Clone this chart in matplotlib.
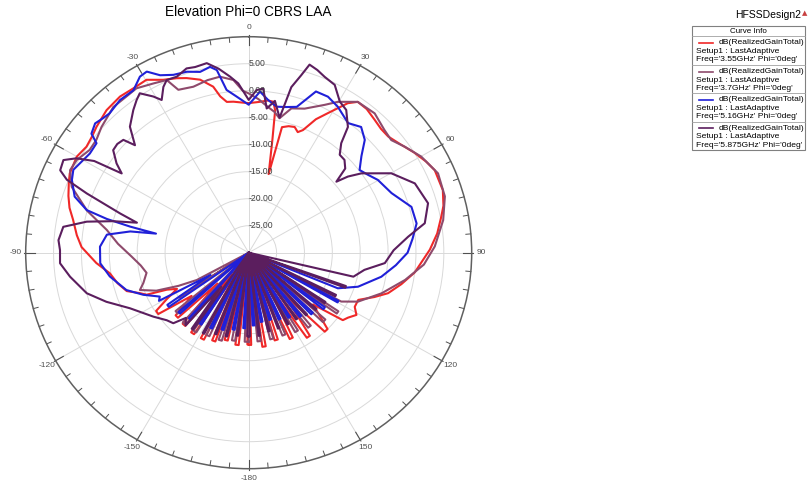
# HFSS style elevation pattern, 4 frequencies

import numpy as np
import matplotlib.pyplot as plt
from matplotlib.patches import Rectangle
from matplotlib.lines import Line2D

plt.rcParams['font.family'] = ['Liberation Sans', 'DejaVu Sans']

# realized gain (dB) vs theta (deg); -30 = at/below floor
th_355 = [-180, -179.2, -176.5, -174, -172, -169.5, -167, -165, -162, -160, -158, -155.5,
          -153.5, -151.5, -149, -147, -145, -142.5, -140, -138, -135.5, -133.5, -131.5, -128,
          -125, -123, -120.3, -117.5, -115, -113, -111, -108, -103.5, -98.7, -94, -88, -84,
          -79, -75.5, -72, -68, -65.4, -60, -56, -52.5, -49.5, -44, -38.6, -34.2, -29.8, -25.6,
          -21.8, -19, -15.2, -11.7, -10, -8, -5.6, -2, 0, 4, 7, 9, 10.2, 11.5, 13.8, 14.4, 17,
          19.5, 21.5, 23.2, 26, 28.8, 32.7, 35, 38.5, 42.6, 46, 49.3, 53.5, 58, 62, 65.4, 71.6,
          76, 79, 84, 89, 97, 102, 106.7, 110, 114, 117.8, 120.8, 124, 126.5, 129.7, 135, 137,
          140.5, 144.5, 146.5, 150, 153.3, 155.3, 158.5, 162, 164, 167, 170, 172, 175.5, 178.5, 180]
db_355 = [-13.0, -13.0, -30, -12.8, -12.8, -30, -13.3, -13.3, -30, -12.5, -12.5, -29,
          -12.0, -12.0, -27, -12.0, -12.0, -25, -12.3, -12.3, -22, -12.5, -12.5, -17,
          -10.2, -10.2, -13, -15.5, -13.8, -10.1, -9.1, -7.0, -5.8, -4.8, -2.6, 0.0, 1.0,
          2.1, 3.2, 4.0, 4.8, 5.3, 5.6, 5.1, 5.4, 5.9, 6.7, 7.0, 6.8, 6.9, 5.5,
          4.8, 4.2, 3.2, 1.4, -0.6, -1.8, -1.9, -2.2, -2.3, -2.0, -1.6, -1.7, -3.2, -8.7, -15.0, -6.0, -5.5,
          -5.3, -6.0, -5.3, -2.5, -0.5, 2.9, 4.1, 4.0, 3.4, 3.0, 3.0, 3.8, 5.0, 6.0, 6.7, 6.7,
          6.0, 5.2, 4.0, 2.5, 0.0, -2.0, -3.9, -6.0, -8.5, -8.5, -7.5, -8.5, -9.0, -15.0, -10.0, -10.0,
          -20, -11.1, -11.1, -24, -12.4, -12.4, -28, -13.1, -13.1, -30, -12.4, -12.4, -30, -12.9, -13.0]

th_37 = [-180, -177.5, -174.5, -171.5, -169.5, -166.5, -163.5, -161.5, -158.5, -155.5, -153.5,
         -150.5, -147.5, -145.5, -142.5, -139.5, -137.5, -134.5, -131.5, -129.5, -126.5, -123.5,
         -121, -118.5, -116, -113, -109.5, -106.5, -101.5, -97, -92, -86, -80.6, -75, -69, -64.5,
         -60.9, -56.3, -52.6, -48.6, -42, -37.2, -33.5, -28.6, -24.7, -22.7, -17.9, -13, -9, -4.9,
         -2, 0, 3.5, 7.3, 10, 12.5, 16, 20.6, 26.5, 29.8, 35, 41.2, 47, 50.8, 55, 60.1, 66.6,
         73.5, 80.2, 88, 94, 100.2, 107.5, 114.8, 118.6, 121.5, 124, 125.5, 128.5, 132, 134, 137,
         140.5, 142.5, 145.5, 148.5, 150.5, 153.5, 156.5, 158.5, 161.5, 164.5, 166.5, 169.5,
         172.5, 174.5, 177.5, 180]
db_37 = [-13.5, -13.5, -30, -13.5, -13.5, -30, -13.0, -13.0, -30, -13.0, -13.0,
         -30, -12.5, -12.5, -30, -12.5, -12.5, -30, -13.0, -13.0, -30, -15.0,
         -30, -19.4, -16.0, -12.0, -9.3, -10.3, -11.3, -10.5, -9.0, -6.5, -4.2, 0.0, 4.0, 5.5,
         5.3, 4.3, 4.4, 5.2, 6.3, 6.3, 6.5, 5.7, 5.2, 2.7, 2.3, 2.8, 3.0, 2.1,
         0.0, -0.5, -1.5, -2.8, -3.5, -4.5, -2.2, -1.5, 0.6, 2.2, 4.1, 4.3, 3.3, 3.0, 4.2, 5.7, 7.0,
         6.7, 5.4, 3.4, 1.5, -1.5, -5.0, -8.4, -11.1, -30, -10.6, -10.6, -30, -11.5, -11.5, -30,
         -12.5, -12.5, -30, -13.1, -13.1, -30, -13.5, -13.5, -30, -13.5, -13.5, -30,
         -13.5, -13.5, -30, -13.5]

th_516 = [-180, -177.5, -176, -173, -170, -168.5, -165.5, -162.5, -161, -158, -155, -153.5,
          -150.5, -147.5, -146, -143, -140, -138.5, -135.5, -132.5, -131, -128, -125, -123.5,
          -121, -119, -117, -112.4, -107.5, -100, -94.2, -87.6, -82.5, -79.5, -78, -77.2, -76.2,
          -74.8, -71.6, -67, -64, -61.3, -57.2, -53.4, -52, -49, -46.4, -44, -39.2, -34.5, -30.9,
          -28.6, -25.8, -22.3, -18.3, -14.6, -11.4, -9.6, -7.5, -4.3, 0, 3.9, 7, 10.5, 14, 17.7,
          22, 26.2, 30.6, 36.6, 40.9, 44.9, 48.5, 52.4, 56, 59.8, 66.7, 73.8, 79.8, 85, 90, 95,
          100.6, 107.8, 112.4, 115.5, 119, 120, 123, 126.5, 128, 131, 134, 135.5, 138.5, 141,
          142.5, 145.5, 148, 149.5, 152.5, 155, 156.5, 159.5, 162, 163.5, 166.5, 169, 170.5, 173,
          175.5, 177, 180]
db_516 = [-30, -16.0, -16.0, -30, -15.5, -15.5, -30, -15.0, -15.0, -30, -14.5, -14.5,
          -30, -14.2, -14.2, -30, -13.8, -13.8, -30, -13.3, -13.3, -30, -12.5, -12.5,
          -22, -11.6, -12.1, -9.55, -7.0, -4.7, -3.3, -3.3, -4.35, -8.4, -13.0, -8.2, -3.8,
          0.1, 2.9, 4.45, 5.0, 4.5, 3.9, 4.0, 5.8, 6.5, 6.1, 5.9, 6.5, 6.5, 8.0,
          8.2, 6.5, 5.6, 5.3, 4.6, 5.1, 4.3, 0.4, -1.0, -2.6, -0.1, -1.5, -2.5, -2.2, -1.65,
          2.2, 2.2, 1.4, -0.1, 0.8, -0.5, -3.0, -4.9, -4.2, -3.2, -2.1, 0.4, 0.6, -0.5, -1.5, -3.5,
          -5.8, -9.4, -12.7, -30, -11.6, -11.6, -30, -13.0, -13.0, -30, -14.0, -14.0, -30, -15.0,
          -15.0, -30, -16.0, -16.0, -30, -16.5, -16.5, -30, -17.0, -17.0, -30, -17.0, -17.0, -30,
          -16.5, -16.5, -30]

th_5875 = [-180, -179, -176, -173, -172, -169, -166, -165, -162, -159, -158, -155, -152, -151,
           -148, -145, -144, -142, -140, -137, -134, -130.4, -124.7, -115.8, -109.6, -104.5,
           -97.9, -93.3, -89.2, -86.1, -81.8, -78.8, -76.5, -74.5, -72.5, -69.3, -67.5, -65.7,
           -62.7, -60.5, -58.5, -57.2, -55.1, -52, -49.5, -47.1, -45.7, -42.4, -38.1, -35.4,
           -33.5, -30.6, -28.9, -26.5, -24.7, -21.6, -18.1, -15.6, -12.1, -9, -5.9, -3.4, 0,
           2.7, 4.9, 6.9, 9.5, 12.5, 14, 16, 17.4, 20, 22.7, 26.4, 30.3, 33.5, 37.4, 39.3, 42,
           45, 48, 50.1, 51.6, 54, 60.1, 66.7, 74.1, 80.2, 84.1, 89, 94.5, 98.7, 103.3, 106,
           109.5, 110.5, 113.5, 116.5, 117.5, 120.5, 123.5, 124.5, 127.5, 130.5, 131.5, 134.5,
           137.5, 138.5, 141.5, 144.5, 145.5, 148.5, 151.5, 152.5, 155.5, 158.5, 159.5, 162.5,
           165.5, 166.5, 169.5, 172.5, 173.5, 176.5, 179.2, 180]
db_5875 = [-14.5, -14.5, -30, -14.5, -14.5, -30, -14.0, -14.0, -30, -13.8, -13.8, -30, -13.0, -13.0,
           -30, -12.6, -12.6, -22, -12.4, -13.5, -11.2, -10.7, -9.2, -6.35, -2.9, 0.0,
           2.35, 3.9, 3.85, 4.2, 3.6, -0.4, -5.0, -9.2, -5.8, 1.05, 5.3, 7.1,
           7.4, 5.5, 2.5, -2.9, -1.1, 0.85, 1.0, 0.7, -1.5, 1.6, 3.55, 4.7,
           5.4, 3.6, 2.3, 4.3, 5.2, 5.05, 5.9, 5.7, 5.9, 4.5, 2.8, 1.4, -1.7,
           0.15, 0.5, -3.1, -1.5, -4.4, 1.6, 4.2, 6.5, 6.0, 5.3, 4.7, 2.4, 1.7, -0.7, -3.8, -5.6,
           -5.7, -6.7, -9.5, -7.3, -5.0, -0.5, 2.45, 3.45, 2.05, -1.25, -4.0, -5.5, -9.0, -10.7, -30,
           -11.5, -11.5, -30, -12.5, -12.5, -30, -13.5, -13.5, -30, -14.0, -14.0, -30,
           -14.5, -14.5, -30, -15.0, -15.0, -30, -15.0, -15.0, -30, -15.0, -15.0, -30,
           -15.0, -15.0, -30, -14.5, -14.5, -30, -14.5, -14.5]

freqs = ["3.55GHz", "3.7GHz", "5.16GHz", "5.875GHz"]
colors = ["#f02828", "#8e4a6c", "#2020d8", "#5b1e5e"]
ring_vals = [5, 0, -5, -10, -15, -20, -25]
theta_ticks = [0, 30, 60, 90, 120, 150, 180, 210, 240, 270, 300, 330]
theta_labels = ["0", "30", "60", "90", "120", "150", "-180", "-150", "-120", "-90", "-60", "-30"]

W, H = 812, 482
fig = plt.figure(figsize=(W / 100, H / 100), dpi=100)

# polar area, slightly wider than tall like the original
cx, cy, rx, ry = 248.7, 252.7, 223, 216
ax = fig.add_axes([(cx - rx) / W, (H - cy - ry) / H, 2 * rx / W, 2 * ry / H], projection='polar')
ax.set_aspect('auto')
ax.set_theta_zero_location('N')
ax.set_theta_direction(-1)
ax.set_ylim(-30, 10)

ax.set_xticks(np.deg2rad(theta_ticks))
ax.set_xticklabels([])
ax.tick_params(axis='x', which='both', length=0)
ax.set_yticks(ring_vals)
ax.set_yticklabels([])
ax.grid(True, which='major', color='#d9d9d9', lw=0.7)
ax.spines['polar'].set_color('#606060')
ax.spines['polar'].set_linewidth(1.1)

# tick marks on the rim: every 5 deg, longer every 30 deg
for d in range(0, 360, 5):
    t = np.deg2rad(d)
    if d % 30 == 0:
        ax.plot([t, t], [8.4, 10.25], color='#505050', lw=0.8, clip_on=False)
    else:
        ax.plot([t, t], [9.1, 10], color='#505050', lw=0.7, clip_on=False)

for d, lab in zip(theta_ticks, theta_labels):
    ax.text(np.deg2rad(d), 11.75, lab, fontsize=6, color='#505050', ha='center', va='center',
            clip_on=False)

for v in ring_vals:
    ax.text(0, v, "%.2f" % v, fontsize=6.2, color='#404040', ha='left', va='center')

series = [(th_355, db_355), (th_37, db_37), (th_516, db_516), (th_5875, db_5875)]
for (th, db), c in zip(series, colors):
    ax.plot(np.deg2rad(th), np.clip(db, -30, None), color=c, lw=1.5)

fig.text(cx / W, 1 - 12.5 / H, "Elevation Phi=0 CBRS LAA", ha='center', va='center', fontsize=9.8)

# HFSS curve info box
fig.text(768 / W, 1 - 15 / H, "HFSSDesign2", ha='center', va='center', fontsize=7.5)
fig.text(805 / W, 1 - 13 / H, "\u25b2", ha='center', va='center', fontsize=5, color='#c84040',
         family='DejaVu Sans')

def fx(x):
    return x / W

def fy(y):
    return 1 - y / H

bx0, by0, bx1, by1 = 692.5, 26, 805, 150
fig.patches.append(Rectangle((fx(bx0), fy(by1)), fx(bx1 - bx0), (by1 - by0) / H,
                             transform=fig.transFigure, fill=False, ec='#808080', lw=0.8))
fig.text(fx((bx0 + bx1) / 2), fy(31.5), "Curve Info", ha='center', va='center', fontsize=5.8)
seps = [36, 65, 93, 121.5]
for s in seps:
    fig.lines.append(Line2D([fx(bx0), fx(bx1)], [fy(s), fy(s)], transform=fig.transFigure,
                            color='#a0a0a0', lw=0.6))
for s, f, c in zip(seps, freqs, colors):
    y1 = s + 6.7
    fig.lines.append(Line2D([fx(699), fx(713)], [fy(y1), fy(y1)], transform=fig.transFigure,
                            color=c, lw=1.2))
    fig.text(fx(719), fy(y1), "dB(RealizedGainTotal)", ha='left', va='center', fontsize=6.1)
    fig.text(fx(696.5), fy(s + 15.5), "Setup1 : LastAdaptive", ha='left', va='center', fontsize=6.1)
    fig.text(fx(696.5), fy(s + 23.8), "Freq='%s' Phi='0deg'" % f, ha='left', va='center', fontsize=6.1)

fig.savefig("out.png", dpi=100)
